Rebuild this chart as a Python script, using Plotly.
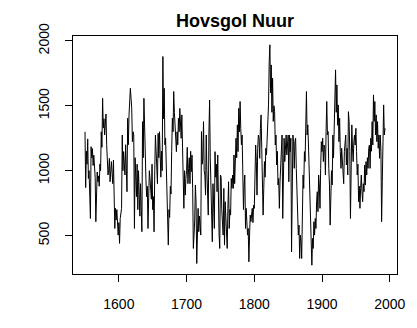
import plotly.graph_objects as go

start_year = 1550
flow = [
    1300, 870, 1150, 1050, 1245, 940, 1000, 850, 632, 1185,
    1100, 1170, 1040, 1120, 1050, 950, 607, 800, 990, 915,
    960, 880, 1050, 1000, 1300, 1180, 1558, 1330, 1400, 1275,
    1330, 1437, 1200, 1018, 967, 1010, 1095, 915, 1000, 1070,
    980, 900, 1082, 850, 555, 710, 620, 700, 607, 504,
    600, 440, 632, 700, 710, 1275, 1000, 1147, 1050, 967,
    1200, 1000, 838, 1404, 1200, 1430, 1500, 1635, 1558, 1481,
    1224, 1300, 1275, 555, 1100, 1000, 800, 1050, 700, 1000,
    750, 650, 900, 720, 530, 1378, 1100, 1558, 1250, 1000,
    930, 800, 880, 555, 750, 1000, 940, 850, 780, 1050,
    700, 800, 529, 1000, 1275, 1150, 1020, 900, 1288, 1100,
    1300, 1050, 950, 1150, 1000, 1880, 1400, 1635, 1200, 1250,
    1000, 900, 600, 427, 700, 640, 880, 820, 1150, 1404,
    1300, 1610, 1450, 1300, 1280, 1147, 1300, 1200, 1404, 1300,
    1480, 1380, 1250, 1430, 1200, 1100, 710, 1000, 812, 940,
    1000, 1180, 900, 1018, 1100, 900, 1150, 993, 1120, 864,
    401, 504, 620, 890, 761, 285, 607, 710, 530, 650,
    581, 504, 1301, 1050, 1095, 1378, 1000, 967, 812, 1275,
    1000, 812, 658, 1301, 1545, 1100, 915, 632, 452, 900,
    761, 555, 1147, 950, 1050, 838, 1121, 658, 504, 401,
    967, 950, 700, 530, 504, 864, 427, 761, 600, 504,
    401, 710, 915, 555, 700, 658, 940, 864, 967, 864,
    1121, 900, 1044, 1250, 1100, 1353, 1147, 1481, 1300, 1533,
    1327, 1200, 1275, 1070, 700, 890, 967, 555, 710, 607,
    504, 555, 298, 504, 658, 607, 658, 710, 600, 735,
    710, 1147, 1198, 1070, 812, 1173, 1275, 1250, 1095, 1327,
    1430, 1173, 812, 658, 864, 1070, 950, 1173, 1121, 1275,
    1404, 1507, 1841, 1970, 1600, 1815, 1450, 1713, 1380, 1500,
    1455, 1198, 1275, 1044, 1150, 890, 941, 710, 915, 1044,
    1070, 1275, 632, 1147, 1250, 1070, 1250, 1275, 1121, 1198,
    1275, 915, 1275, 1147, 1250, 375, 1018, 1275, 1224, 1018,
    1224, 1250, 1018, 890, 735, 504, 581, 324, 504, 452,
    324, 812, 967, 864, 1147, 1070, 1378, 1610, 1275, 1353,
    1198, 1018, 761, 504, 427, 272, 478, 401, 607, 504,
    632, 555, 761, 838, 684, 967, 890, 710, 1018, 1224,
    1147, 1250, 1070, 1198, 1173, 967, 1301, 1533, 1275, 1301,
    1018, 890, 581, 761, 1000, 890, 1275, 1100, 1353, 1533,
    1777, 1450, 1661, 1350, 1507, 1224, 1404, 1147, 1018, 1173,
    1070, 967, 900, 1147, 1198, 1275, 1044, 1173, 967, 1455,
    1378, 1147, 632, 1018, 1353, 1173, 1070, 1224, 1275, 1198,
    1327, 1147, 967, 1050, 761, 880, 710, 864, 967, 838,
    761, 900, 838, 1044, 890, 1070, 967, 1100, 1018, 1173,
    1198, 1018, 1250, 1150, 1378, 1198, 1584, 1380, 1533, 1275,
    1430, 1224, 1378, 1173, 1275, 1095, 1275, 1147, 607, 915,
    1147, 1507, 1275, 1327,
]
years = list(range(start_year, start_year + len(flow)))

x_ticks = [1600, 1700, 1800, 1900, 2000]
y_ticks = [500, 1000, 1500, 2000]
title_text = "Hovsgol Nuur"

def r_range(vals):
    lo, hi = min(vals), max(vals)
    pad = 0.04 * (hi - lo)
    return [lo - pad, hi + pad]

font_family = "Liberation Sans, Arial, sans-serif"

fig = go.Figure(go.Scatter(x=years, y=flow, mode="lines",
                           line=dict(color="black", width=1),
                           hoverinfo="skip"))

axis_common = dict(showgrid=False, zeroline=False, showline=True, mirror=True,
                   linecolor="black", linewidth=1, ticks="outside", ticklen=7,
                   tickwidth=1, tickcolor="black",
                   tickfont=dict(family=font_family, size=14, color="black"))

fig.update_layout(
    width=417, height=328,
    margin=dict(l=73, r=18, t=36, b=54),
    paper_bgcolor="white", plot_bgcolor="white",
    showlegend=False,
    title=dict(text="<b>" + title_text + "</b>", x=0.5, xref="paper",
               y=1 - 20.5 / 328, yref="container", yanchor="middle", xanchor="center",
               font=dict(family=font_family, size=18, color="black")),
    xaxis=dict(range=r_range(years), tickvals=x_ticks,
               ticktext=[str(v) for v in x_ticks], ticklabelstandoff=10, **axis_common),
    yaxis=dict(range=r_range(flow), tickvals=y_ticks,
               ticktext=[str(v) for v in y_ticks], tickangle=-90,
               ticklabelstandoff=10, **axis_common),
)

fig.write_html("out.html")
